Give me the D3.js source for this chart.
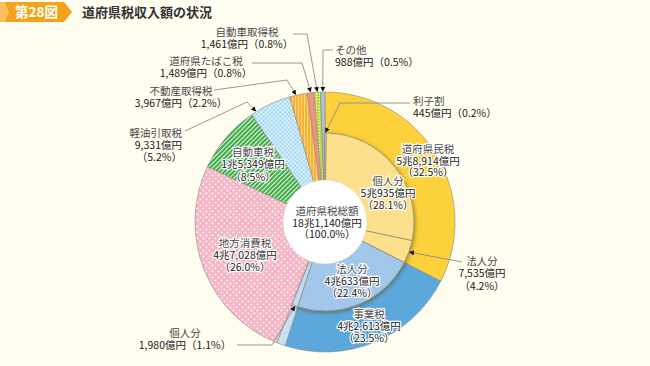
<!DOCTYPE html>
<html>
<head>
<meta charset="utf-8">
<title>道府県税収入額の状況</title>
<style>
    body { margin: 0; background: #fffdf0; }
    svg { display: block; font-family: "Noto Sans CJK JP", "Noto Sans", sans-serif; }
    .lbl { font-size: 10.5px; }
    .nm { fill: #4a4a4a; }
    .val { fill: #1a1a1a; }
    .halo { paint-order: stroke; stroke: #fff; stroke-width: 2.4px; stroke-linejoin: round; }
    .lead { fill: none; stroke: #8c8c8c; stroke-width: 0.9; }
</style>
</head>
<body>
<script src="https://cdn.jsdelivr.net/npm/d3@7"></script>
<script>

var width = 650,
    height = 366,
    cx = 325,
    cy = 222

// outer ring (億円)
var outerKeys   = ['kenmin', 'jigyoHojin', 'jigyoKojin', 'chihoShohi', 'jidosha', 'keiyu', 'fudosan', 'tabako', 'jidoshaShutoku', 'sonota']
var outerValues = [58914, 40633, 1980, 47028, 15349, 9331, 3967, 1489, 1461, 988]

// inner ring: 道府県民税 / 事業税 の内訳 (last entry = rest of circle, not drawn)
var innerKeys   = ['rishiwari', 'kenminKojin', 'kenminHojin', 'jigyoHojin', 'jigyoKojin', 'rest']
var innerValues = [445, 50935, 7535, 40633, 1980, 79612]

// label texts
var labelNames = {
    total: '道府県税総額', kenmin: '道府県民税', kenminKojin: '個人分', kenminHojin: '法人分',
    rishiwari: '利子割', jigyo: '事業税', jigyoHojin: '法人分', jigyoKojin: '個人分',
    chihoShohi: '地方消費税', jidosha: '自動車税', keiyu: '軽油引取税', fudosan: '不動産取得税',
    tabako: '道府県たばこ税', jidoshaShutoku: '自動車取得税', sonota: 'その他'
}
var labelAmounts = {
    total: 181140, kenmin: 58914, kenminKojin: 50935, kenminHojin: 7535, rishiwari: 445,
    jigyo: 42613, jigyoHojin: 40633, jigyoKojin: 1980, chihoShohi: 47028, jidosha: 15349,
    keiyu: 9331, fudosan: 3967, tabako: 1489, jidoshaShutoku: 1461, sonota: 988
}
var labelPcts = {
    total: '100.0', kenmin: '32.5', kenminKojin: '28.1', kenminHojin: '4.2', rishiwari: '0.2',
    jigyo: '23.5', jigyoHojin: '22.4', jigyoKojin: '1.1', chihoShohi: '26.0', jidosha: '8.5',
    keiyu: '5.2', fudosan: '2.2', tabako: '0.8', jidoshaShutoku: '0.8', sonota: '0.5'
}

var fills = {
    kenmin: '#fdd13c', jigyoHojin: '#5ca8dd', jigyoKojin: '#c8e0f4', chihoShohi: 'url(#dots)',
    jidosha: 'url(#stripe)', keiyu: 'url(#hatch)', fudosan: 'url(#vline)', tabako: '#ef9385',
    jidoshaShutoku: 'url(#ygdot)', sonota: '#a9c3df'
}
var innerFills = {
    rishiwari: '#fde08c', kenminKojin: '#fde08c', kenminHojin: '#fde08c',
    jigyoHojin: '#a2c7ea', jigyoKojin: '#c0dbf2'
}

function yen(v) {
    var cho = Math.floor(v / 10000), oku = v % 10000
    return (cho ? cho + '兆' : '') + d3.format(',')(oku) + '億円'
}

var svg = d3.select('body').append('svg')
    .attr('width', width)
    .attr('height', height)

svg.append('rect').attr('width', width).attr('height', height).attr('fill', '#fffdf0')

var defs = svg.append('defs')

// patterns
var p = defs.append('pattern').attr('id', 'dots').attr('patternUnits', 'userSpaceOnUse')
    .attr('width', 6).attr('height', 6)
p.append('rect').attr('width', 6).attr('height', 6).attr('fill', '#f5b6c6')
p.append('rect').attr('x', 0.6).attr('y', 0.6).attr('width', 1.6).attr('height', 1.6).attr('fill', '#fff')
p.append('rect').attr('x', 3.6).attr('y', 3.6).attr('width', 1.6).attr('height', 1.6).attr('fill', '#fff')

p = defs.append('pattern').attr('id', 'stripe').attr('patternUnits', 'userSpaceOnUse')
    .attr('width', 3.2).attr('height', 3.2).attr('patternTransform', 'rotate(45)')
p.append('rect').attr('width', 3.2).attr('height', 3.2).attr('fill', '#3dab45')
p.append('rect').attr('width', 1.1).attr('height', 3.2).attr('fill', '#e8f6e4')

p = defs.append('pattern').attr('id', 'hatch').attr('patternUnits', 'userSpaceOnUse')
    .attr('width', 3).attr('height', 3).attr('patternTransform', 'rotate(45)')
p.append('rect').attr('width', 3).attr('height', 3).attr('fill', '#9fd7f3')
p.append('rect').attr('width', 0.8).attr('height', 3).attr('fill', '#e6f6fd')
p.append('rect').attr('width', 3).attr('height', 0.8).attr('fill', '#e6f6fd')

p = defs.append('pattern').attr('id', 'vline').attr('patternUnits', 'userSpaceOnUse')
    .attr('width', 3).attr('height', 3)
p.append('rect').attr('width', 3).attr('height', 3).attr('fill', '#f8b232')
p.append('rect').attr('width', 1).attr('height', 3).attr('fill', '#fcd684')

p = defs.append('pattern').attr('id', 'ygdot').attr('patternUnits', 'userSpaceOnUse')
    .attr('width', 3).attr('height', 3)
p.append('rect').attr('width', 3).attr('height', 3).attr('fill', '#c6da45')
p.append('rect').attr('width', 1).attr('height', 1).attr('fill', '#f3f8d8')

defs.append('filter').attr('id', 'shadow').attr('x', '-20%').attr('y', '-20%').attr('width', '140%').attr('height', '140%')
    .append('feDropShadow').attr('dx', 1).attr('dy', 1.5).attr('stdDeviation', 2.2)
    .attr('flood-color', '#5a4300').attr('flood-opacity', 0.55)

defs.append('marker').attr('id', 'arrow').attr('viewBox', '0 0 6 6')
    .attr('refX', 5).attr('refY', 3).attr('markerWidth', 5).attr('markerHeight', 5)
    .attr('orient', 'auto').attr('markerUnits', 'userSpaceOnUse')
    .append('path').attr('d', 'M0,0L6,3L0,6Z').attr('fill', '#111')

// title
svg.append('path').attr('d', 'M0,2H64L72,12L64,22H0Z').attr('fill', '#f5a21b')
svg.append('path').attr('d', 'M0,2H5L9,12L5,22H0Z').attr('fill', '#f8c060')
svg.append('text').attr('x', 15).attr('y', 17).attr('fill', '#fff')
    .attr('font-size', 13.5).attr('font-weight', 'bold').text('第28図')
svg.append('text').attr('x', 82).attr('y', 17).attr('fill', '#333')
    .attr('font-size', 13).attr('font-weight', 'bold').text('道府県税収入額の状況')

var rWhite = 42, rInner = 89, rOuter = 130

var pie = d3.pie().sort(null).value(function(d) { return d })
var outerArcs = pie(outerValues)
var innerArcs = pie(innerValues)

var g = svg.append('g').attr('transform', 'translate(' + cx + ',' + cy + ')')

var outerArc = d3.arc().innerRadius(rWhite - 2).outerRadius(rOuter)
var innerArc = d3.arc().innerRadius(rWhite - 2).outerRadius(rInner)

g.selectAll('path.outer').data(outerArcs).enter().append('path')
    .attr('class', 'outer')
    .attr('d', outerArc)
    .attr('fill', function(d, i) { return fills[outerKeys[i]] })
    .attr('stroke', '#8a8a80').attr('stroke-width', 0.6)

var inner = g.append('g').attr('filter', 'url(#shadow)')
inner.selectAll('path').data(innerArcs.slice(0, 5)).enter().append('path')
    .attr('d', innerArc)
    .attr('fill', function(d, i) { return innerFills[innerKeys[i]] })
    .attr('stroke', '#8f8a78').attr('stroke-width', 0.7)

g.append('circle').attr('r', rWhite).attr('fill', '#fff').attr('stroke', '#d8d8d0').attr('stroke-width', 0.5)

// point on ring at fraction t of a slice
function tip(arcD, t, r) {
    var a = arcD.startAngle + (arcD.endAngle - arcD.startAngle) * t
    return [cx + r * Math.sin(a), cy - r * Math.cos(a)]
}

function slice(key) { return outerArcs[outerKeys.indexOf(key)] }
function innerSlice(key) { return innerArcs[innerKeys.indexOf(key)] }

// leader lines: start, elbow, then arrow at slice
var leaders = [
    { from: [333, 50], elbow: [323, 50], to: tip(slice('sonota'), 0.5, rOuter + 1) },
    { from: [293, 34], elbow: [307, 34], to: tip(slice('jidoshaShutoku'), 0.5, rOuter + 1) },
    { from: [252, 63], elbow: [302, 63], to: tip(slice('tabako'), 0.5, rOuter + 1) },
    { from: [214, 90], elbow: [287, 80], to: tip(slice('fudosan'), 0.35, rOuter + 1) },
    { from: [185, 131], elbow: [247, 102], to: tip(slice('keiyu'), 0.12, rOuter + 1) },
    { from: [410, 103], elbow: [340, 103], to: tip(innerSlice('rishiwari'), 0.5, rInner + 1) },
    { from: [462, 262], elbow: [446, 259], to: tip(innerSlice('kenminHojin'), 0.5, rInner + 1) },
    { from: [237, 345], elbow: [272, 345], to: tip(innerSlice('jigyoKojin'), 0.5, rInner + 1) }
]

svg.selectAll('path.lead').data(leaders).enter().append('path')
    .attr('class', 'lead')
    .attr('d', function(d) { return d3.line()([d.from, d.elbow, d.to]) })
    .attr('marker-end', 'url(#arrow)')

// labels: x, y of first line, anchor, line step
var labels = [
    { key: 'total', x: 327, y: 211, anchor: 'middle', inside: true, step: 11.8 },
    { key: 'kenmin', x: 428, y: 149, anchor: 'middle', inside: true, step: 11.8 },
    { key: 'kenminKojin', x: 388, y: 181, anchor: 'middle', inside: true, step: 12 },
    { key: 'jigyoHojin', x: 352, y: 269, anchor: 'middle', inside: true, step: 12 },
    { key: 'jigyo', x: 369, y: 314, anchor: 'middle', inside: true, step: 12 },
    { key: 'chihoShohi', x: 245, y: 243, anchor: 'middle', inside: true, step: 12 },
    { key: 'jidosha', x: 253, y: 152, anchor: 'middle', inside: true, step: 12.4 },
    { key: 'kenminHojin', x: 482, y: 261, anchor: 'middle', step: 12.5 },
    { key: 'keiyu', x: 182, y: 133, anchor: 'end', step: 12 },
    { key: 'fudosan', x: 181, y: 91, anchor: 'middle', oneLine: true, step: 12 },
    { key: 'tabako', x: 206, y: 61, anchor: 'middle', oneLine: true, step: 12 },
    { key: 'jidoshaShutoku', x: 247, y: 32, anchor: 'middle', oneLine: true, step: 12 },
    { key: 'sonota', x: 335, y: 50, anchor: 'start', oneLine: true, step: 12 },
    { key: 'rishiwari', x: 413, y: 101, anchor: 'start', oneLine: true, step: 12 },
    { key: 'jigyoKojin', x: 185, y: 333, anchor: 'middle', oneLine: true, step: 12.5 }
]

labels.forEach(function(l) {
    var rows = [{ t: labelNames[l.key], c: 'nm' }]
    if (l.oneLine) {
        rows.push({ t: yen(labelAmounts[l.key]) + '（' + labelPcts[l.key] + '%）', c: 'val' })
    } else {
        rows.push({ t: yen(labelAmounts[l.key]), c: 'val' })
        rows.push({ t: '（' + labelPcts[l.key] + '%）', c: 'val' })
    }
    var t = svg.append('g')
    t.selectAll('text').data(rows).enter().append('text')
        .attr('class', function(d) { return 'lbl ' + d.c + (l.inside ? ' halo' : '') })
        .attr('x', l.x)
        .attr('y', function(d, i) { return l.y + i * l.step })
        .attr('dy', '0.36em')
        .attr('text-anchor', l.anchor)
        .text(function(d) { return d.t })
})

</script>
</body>
</html>
